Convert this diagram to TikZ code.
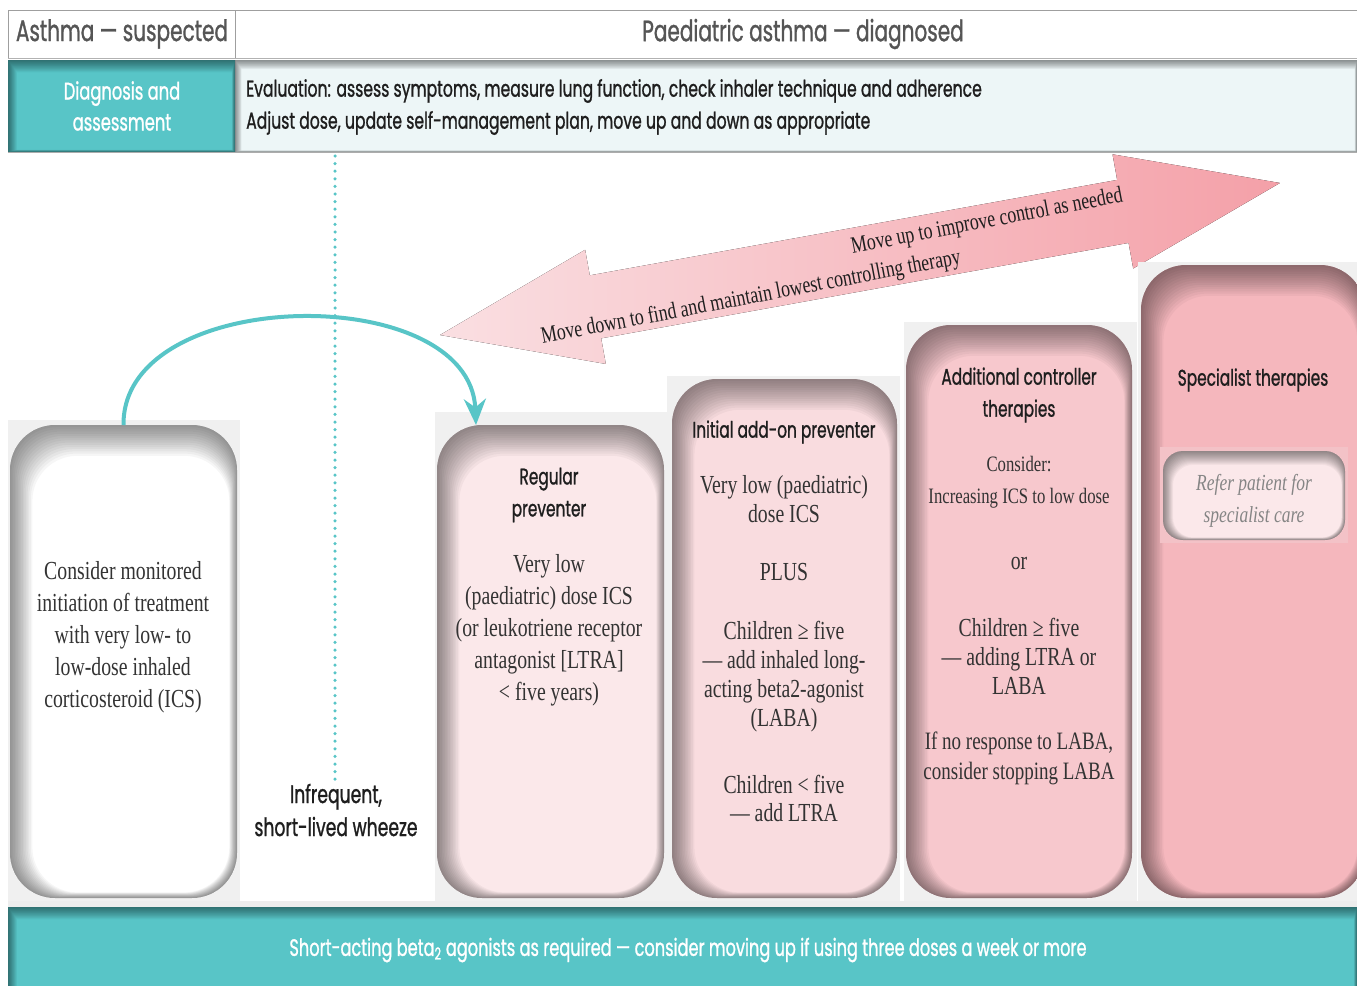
\documentclass[tikz,border=0pt]{standalone}
\usepackage{fontspec}
\setmainfont{Liberation Serif}[FakeStretch=0.76]
\newfontfamily\hfont{Poppins}[FakeStretch=0.68, FakeBold=1.0]
\usetikzlibrary{arrows.meta}

\definecolor{tealband}{HTML}{58C5C7}
\definecolor{hdrgray}{HTML}{555555}
\definecolor{rowlight}{HTML}{EDF6F7}
\definecolor{ink}{HTML}{1E1E1E}
\definecolor{bodyink}{HTML}{333333}
\definecolor{bggray}{HTML}{F0F0F0}
\definecolor{pinkA}{HTML}{FBE8EA}
\definecolor{pinkB}{HTML}{F9DCDF}
\definecolor{pinkC}{HTML}{F7C8CD}
\definecolor{pinkD}{HTML}{F5B7BD}
\definecolor{pinkBg}{HTML}{F3C2C7}
\definecolor{arrowL}{HTML}{FADFE2}
\definecolor{arrowR}{HTML}{F4A0A8}
\definecolor{referink}{HTML}{858585}

% inner shadow: x1 y1 x2 y2 radius insetscale
\newcommand{\ishadow}[6]{%
  \begin{scope}
    \clip[rounded corners=#5] (#1,#2) rectangle (#3,#4);
    \foreach \k in {1,...,14}{%
      \fill[black,opacity=0.034,even odd rule]
        (#1-60,#2-60) rectangle (#3+60,#4+60)
        [rounded corners=#5] (#1+1.6*\k*#6,#2+2.2*\k*#6) rectangle (#3-0.55*\k*#6,#4-0.4*\k*#6);
    }
  \end{scope}}

\tikzset{
  hdrtext/.style={font=\hfont\fontsize{29.5}{32}\selectfont, text=hdrgray, inner sep=0pt},
  rowhead/.style={font=\hfont\fontsize{24}{31}\selectfont, text=white, align=center, inner sep=0pt},
  rowtext/.style={font=\hfont\fontsize{23}{32}\selectfont, text=ink, align=left, inner sep=0pt, anchor=west},
  boxhead/.style={font=\hfont\fontsize{22.6}{32}\selectfont, text=ink, align=center, inner sep=0pt},
  boxbody/.style={font=\fontsize{26}{32}\selectfont, text=bodyink, align=center, inner sep=0pt},
  stepbox/.style={rounded corners=45pt, inner sep=0pt, outer sep=0pt, draw=none},
  arrowtext/.style={font=\fontsize{23.5}{28}\selectfont, text=ink, inner sep=0pt, rotate=10.8},
  bandtext/.style={font=\hfont\fontsize{23.8}{26}\selectfont, text=white, inner sep=0pt},
  dotline/.style={draw=tealband, line width=3.5pt, line cap=round, dash pattern=on 0pt off 7.6pt},
  curvearrow/.style={draw=tealband, line width=4pt, -{Stealth[length=26pt,width=22pt]}}
}

\begin{document}
\begin{tikzpicture}[x=1pt,y=-1pt]
\clip (0,0) rectangle (1357,985);
\fill[white] (0,0) rectangle (1357,985);

% ---------- header row ----------
\draw[gray!75, line width=1pt] (8,58) -- (8,10) -- (1357,10);
\draw[gray!75, line width=1pt] (235,10) -- (235,58);
\draw[gray!60, line width=1.5pt] (8,58.5) -- (1357,58.5);
\node[hdrtext] (hsusp) at (122,34) {Asthma — suspected};
\node[hdrtext] (hdiag) at (803,34) {Paediatric asthma — diagnosed};

% ---------- diagnosis and assessment row ----------
\fill[tealband] (8,60) rectangle (235,152);
\fill[rowlight] (235,60) rectangle (1357,152);
\ishadow{8}{60}{235}{152}{0pt}{0.4}
\ishadow{235}{60}{1357}{152}{0pt}{0.3}
\draw[gray!65, line width=1pt] (8,152) -- (1357,152);
\node[rowhead] (diag) at (122,106) {Diagnosis and\\assessment};
\node[rowtext] (evalt) at (246,107) {Evaluation: assess symptoms, measure lung function, check inhaler technique and adherence\\Adjust dose, update self-management plan, move up and down as appropriate};

% ---------- move up / move down arrow ----------
\begin{scope}[shift={(440,335)}, rotate=10.26]
  \fill[left color=arrowL, right color=arrowR]
    (0,0) -- (158,-58) -- (158,-32) -- (694,-32) -- (694,-58) -- (853.6,0)
    -- (694,58) -- (694,32) -- (158,32) -- (158,58) -- cycle;
\end{scope}
\node[arrowtext] (mvup) at (987,222) {Move up to improve control as needed};
\node[arrowtext] (mvdown) at (751,298) {Move down to find and maintain lowest controlling therapy};

% ---------- step backgrounds ----------
\fill[bggray] (8,420) rectangle (240,901);
\fill[bggray] (435,412) rectangle (667,901);
\fill[bggray] (667,376) rectangle (900,901);
\fill[bggray] (904,322) rectangle (1137,901);
\fill[bggray] (1138,262) rectangle (1357,901);
\fill[gray!14] (8,901) rectangle (1357,907);

% ---------- steps ----------
\node[stepbox, fill=white, minimum width=227pt, minimum height=473pt] (b1) at (123.5,661.5) {};
\ishadow{10}{425}{237}{898}{45pt}{1}
\node[stepbox, fill=pinkA, minimum width=227pt, minimum height=473pt] (b2) at (550.5,661.5) {};
\ishadow{437}{425}{664}{898}{45pt}{1}
\node[stepbox, fill=pinkB, minimum width=225pt, minimum height=519pt] (b3) at (784.5,638.5) {};
\ishadow{672}{379}{897}{898}{45pt}{1}
\node[stepbox, fill=pinkC, minimum width=226pt, minimum height=573pt] (b4) at (1019,611.5) {};
\ishadow{906}{325}{1132}{898}{45pt}{1}
\node[stepbox, fill=pinkD, minimum width=224pt, minimum height=633pt] (b5) at (1253,581.5) {};
\ishadow{1141}{265}{1365}{898}{45pt}{1}

% referral panel inside the specialist step
\fill[pinkBg] (1160,447) rectangle (1348,543);
\node[stepbox, rounded corners=20pt, fill=pinkA, minimum width=182pt, minimum height=89pt] (refer) at (1254,495.5) {};
\ishadow{1163}{451}{1345}{540}{20pt}{0.45}

% ---------- step texts ----------
\node[boxbody] (t1) at (123,637) {Consider monitored\\initiation of treatment\\with very low- to\\low-dose inhaled\\corticosteroid (ICS)};

\node[boxhead] (h2) at (549,495) {Regular\\preventer};
\node[boxbody] (t2) at (549,630) {Very low\\(paediatric) dose ICS\\(or leukotriene receptor\\antagonist [LTRA]\\< five years)};

\node[boxhead] (h3) at (784,432) {Initial add-on preventer};
\node[boxbody, font=\fontsize{26}{28.5}\selectfont] (t3a) at (784,499) {Very low (paediatric)\\dose ICS};
\node[boxbody] (t3b) at (784,572) {PLUS};
\node[boxbody, font=\fontsize{26}{29}\selectfont] (t3c) at (784,677) {Children ≥ five\\— add inhaled long-\\acting beta2-agonist\\(LABA)};
\node[boxbody, font=\fontsize{26}{28}\selectfont] (t3d) at (784,798) {Children < five\\— add LTRA};

\node[boxhead] (h4) at (1019,395) {Additional controller\\therapies};
\node[boxbody, font=\fontsize{22}{32}\selectfont] (t4a) at (1019,482) {Consider:\\Increasing ICS to low dose};
\node[boxbody] (t4b) at (1019,563) {or};
\node[boxbody, font=\fontsize{26}{29}\selectfont] (t4c) at (1019,656) {Children ≥ five\\— adding LTRA or\\LABA};
\node[boxbody, font=\fontsize{25}{30}\selectfont] (t4d) at (1019,758) {If no response to LABA,\\consider stopping LABA};

\node[boxhead] (h5) at (1253,380) {Specialist therapies};
\node[boxbody, font=\itshape\fontsize{23}{32}\selectfont, text=referink] (t5) at (1254,501) {Refer patient for\\specialist care};

% ---------- infrequent wheeze ----------
\coordinate (dtop) at (335,156);
\node[boxhead, font=\hfont\fontsize{25.3}{33}\selectfont] (wheeze) at (336,810) {Infrequent,\\short-lived wheeze};
\draw[dotline] (dtop) -- (dtop |- wheeze.north);

% ---------- curved arrow from first step to regular preventer ----------
\draw[curvearrow] (b1.north) .. controls (122,285) and (470,280) .. ([xshift=39pt]b2.north west);

% ---------- reliever band ----------
\fill[tealband] (8,907) rectangle (1357,990);
\ishadow{8}{907}{1357}{990}{0pt}{0.4}
\node[bandtext] (saba) at (688,950) {Short-acting beta\textsubscript{2} agonists as required — consider moving up if using three doses a week or more};
\end{tikzpicture}
\end{document}
